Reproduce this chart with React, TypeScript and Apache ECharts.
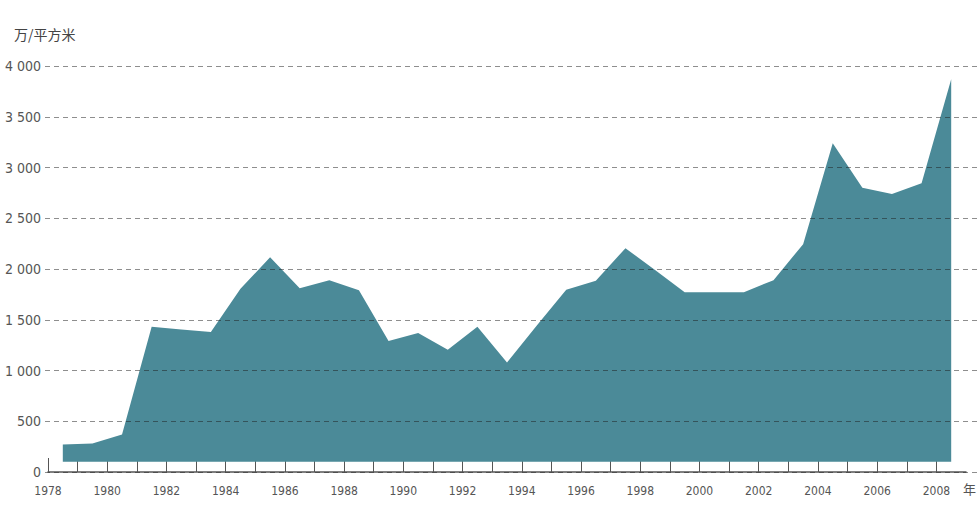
import React, { useEffect, useRef } from "react";
import * as echarts from "echarts";

const years: number[] = [
  1978, 1979, 1980, 1981, 1982, 1983, 1984, 1985, 1986, 1987, 1988, 1989, 1990,
  1991, 1992, 1993, 1994, 1995, 1996, 1997, 1998, 1999, 2000, 2001, 2002, 2003,
  2004, 2005, 2006, 2007, 2008,
];
const values: number[] = [
  270, 280, 370, 1430, 1405, 1380, 1805, 2115, 1810, 1890, 1790, 1290, 1370,
  1205, 1430, 1080, 1440, 1795, 1885, 2205, 1990, 1770, 1770, 1772, 1890, 2245,
  3240, 2800, 2740, 2845, 3870,
];
const yTicks: number[] = [0, 500, 1000, 1500, 2000, 2500, 3000, 3500, 4000];
const unitLabel = "万/平方米";
const yearLabel = "年";

const NARROW = '"Liberation Sans Narrow", "DejaVu Sans Condensed", "Noto Sans", sans-serif';

function fmtThousands(v: number): string {
  const s = String(Math.round(v));
  return s.replace(/\B(?=(\d{3})+(?!\d))/g, " ");
}

export default function App() {
  const ref = useRef<HTMLDivElement>(null);
  useEffect(() => {
    if (!ref.current) return;
    const chart = echarts.init(ref.current, undefined, { renderer: "svg" });
    const top = 66;
    const bottom = 40;
    chart.setOption({
      animation: false,
      backgroundColor: "#ffffff",
      title: {
        text: unitLabel,
        left: 9,
        top: 22,
        textStyle: {
          fontSize: 14,
          fontWeight: "normal",
          color: "#444",
          fontFamily: '"Noto Sans CJK SC", sans-serif',
        },
      },
      graphic: [
        {
          type: "text",
          left: 963,
          top: 482,
          style: {
            text: yearLabel,
            fontSize: 13,
            fill: "#555",
            fontFamily: '"Noto Sans CJK SC", sans-serif',
          },
        },
      ],
      grid: [
        { left: 45, right: 0, top, bottom },
        { left: 48, right: 11, top, bottom },
      ],
      xAxis: [
        { type: "value", gridIndex: 0, min: 0, max: 1, show: false },
        {
          type: "value",
          gridIndex: 1,
          min: years[0],
          max: years[years.length - 1] + 1,
          interval: 1,
          offset: 4,
          axisLine: { show: true, lineStyle: { color: "#555", width: 1.5 } },
          axisTick: {
            show: true,
            inside: true,
            length: 14,
            lineStyle: { color: "#555", width: 1 },
          },
          splitLine: { show: false },
          axisLabel: {
            margin: 9,
            fontSize: 12,
            color: "#555",
            fontFamily: NARROW,
            showMaxLabel: false,
            formatter: (v: number) => (Math.round(v) % 2 === 0 ? String(Math.round(v)) : ""),
          },
        },
      ],
      yAxis: [
        {
          type: "value",
          gridIndex: 0,
          min: yTicks[0],
          max: yTicks[yTicks.length - 1],
          interval: yTicks[1] - yTicks[0],
          z: 5,
          axisLine: { show: false },
          axisTick: { show: false },
          axisLabel: {
            margin: 4,
            fontSize: 14,
            color: "#555",
            fontFamily: NARROW,
            formatter: (v: number) => fmtThousands(v),
          },
          splitLine: {
            show: true,
            lineStyle: { color: "rgba(30,30,30,0.5)", type: [5, 4], width: 1 },
          },
        },
        {
          type: "value",
          gridIndex: 1,
          min: yTicks[0],
          max: yTicks[yTicks.length - 1],
          show: false,
          splitLine: { show: false },
        },
      ],
      series: [
        {
          type: "line",
          xAxisIndex: 1,
          yAxisIndex: 1,
          symbol: "none",
          z: 2,
          lineStyle: { width: 0 },
          areaStyle: { color: "#4b8a98", opacity: 1, origin: 100 },
          data: years.map((y, i) => [y + 0.5, values[i]]),
        },
      ],
    });
    return () => chart.dispose();
  }, []);
  return (
    <div
      ref={ref}
      style={{ position: "fixed", left: 0, top: 0, width: 977, height: 512 }}
    />
  );
}
